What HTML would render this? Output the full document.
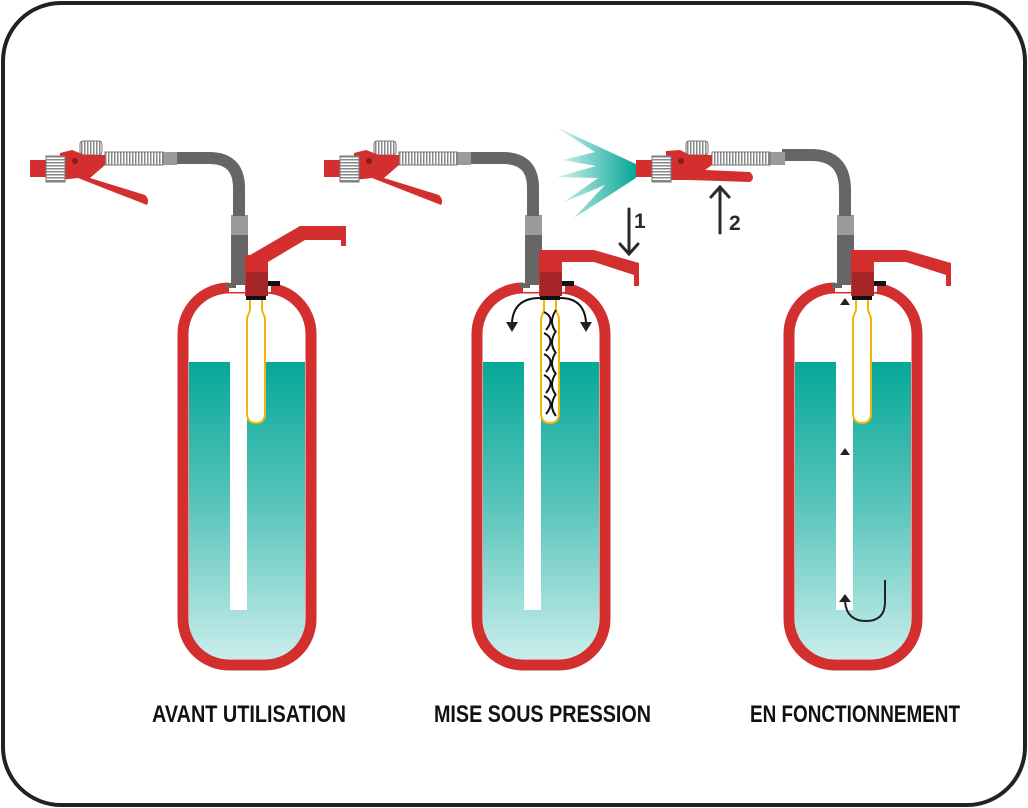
<!DOCTYPE html>
<html><head><style>
html,body{margin:0;padding:0;background:#fff;}
svg{display:block}
text{font-family:"Liberation Sans Narrow","Liberation Sans",sans-serif;font-weight:bold;}
</style></head><body>
<svg width="1028" height="808" viewBox="0 0 1028 808" xmlns="http://www.w3.org/2000/svg">
<defs>
<linearGradient id="liq" x1="0" y1="0" x2="0" y2="1">
<stop offset="0" stop-color="#05a898"/><stop offset="0.5" stop-color="#5cc6bc"/><stop offset="1" stop-color="#c9edeb"/></linearGradient>
<linearGradient id="spr" x1="1" y1="0" x2="0" y2="0">
<stop offset="0" stop-color="#05a898"/><stop offset="1" stop-color="#05a898" stop-opacity="0.15"/></linearGradient>
<pattern id="knv" width="3" height="10" patternUnits="userSpaceOnUse"><rect width="3" height="10" fill="#fff"/><rect width="1.5" height="10" fill="#888"/></pattern>
<pattern id="knh" width="10" height="3" patternUnits="userSpaceOnUse"><rect width="10" height="3" fill="#fff"/><rect width="10" height="1.5" fill="#888"/></pattern>
<g id="bottle">
  <rect x="183" y="288" width="128" height="377" rx="46" fill="#fff"/>
  <path d="M189,362 H305 V620 Q305,659 266,659 H228 Q189,659 189,620 Z" fill="url(#liq)"/>
  <rect x="230" y="362" width="17" height="248" fill="#fff"/>
  <rect x="183" y="288" width="128" height="377" rx="46" fill="none" stroke="#d32f2f" stroke-width="11"/>
  <rect x="229" y="280" width="42" height="12" fill="#fff"/>
  <rect x="226" y="283" width="10" height="5" fill="#666"/>
  <rect x="268" y="281" width="12" height="5" fill="#111"/>
  <rect x="246" y="293" width="20" height="7" fill="#111"/>
  <path d="M250,300 V310 L247,318 V413 Q247,423 256,423 Q265,423 265,413 V318 L262,310 V300" fill="#fff" stroke="#f2b705" stroke-width="2"/>
</g>
<g id="valve">
  <rect x="231" y="233" width="17" height="52" fill="#666"/>
  <rect x="231" y="215" width="17" height="20" fill="#9a9a9f"/>
  <rect x="245" y="255" width="6" height="41" fill="#d32f2f"/>
  <rect x="262" y="255" width="6" height="20" fill="#d32f2f"/>
  <rect x="246" y="272" width="22" height="24" fill="#a52528"/>
  <rect x="253" y="265" width="6" height="3" fill="#a52528"/>
</g>
</defs>

<rect x="3" y="3" width="1022" height="802" rx="58" fill="#fff" stroke="#222" stroke-width="4"/>

<!-- Bottle 1 -->
<use href="#bottle"/>
<use href="#valve"/>
<path d="M245,258 L300,226 H346 V246 H341 V240 H305 L268,262 V272 H245 Z" fill="#d32f2f"/>
<path d="M239,216 V188 Q239,158 209,158 H176" fill="none" stroke="#666" stroke-width="12"/>
<rect x="163" y="152" width="14" height="13" fill="#9a9a9f"/>
<rect x="105" y="152" width="58" height="13" fill="url(#knv)" stroke="#777" stroke-width="1"/>
<rect x="80" y="141" width="22" height="14" rx="3" fill="url(#knv)" stroke="#777"/>
<path d="M60,153 L72,150 L85,155 H105 V165 L90,178 L145,195 Q150,200 147,205 L78,178 L60,180 Z" fill="#d32f2f"/>
<circle cx="75" cy="161" r="3" fill="#8b1a1a"/>
<rect x="30" y="160" width="18" height="17" fill="#d32f2f"/>
<rect x="46" y="156" width="19" height="26" fill="url(#knh)" stroke="#777"/>

<!-- Bottle 2 -->
<g transform="translate(294,0)">
<use href="#bottle"/>
<use href="#valve"/>
<path d="M245,250 H300 L345,263 V286 H340 V275 L300,262 H268 V272 H245 Z" fill="#d32f2f"/>
<path d="M239,216 V188 Q239,158 209,158 H176" fill="none" stroke="#666" stroke-width="12"/>
<rect x="163" y="152" width="14" height="13" fill="#9a9a9f"/>
<rect x="105" y="152" width="58" height="13" fill="url(#knv)" stroke="#777"/>
<rect x="80" y="141" width="22" height="14" rx="3" fill="url(#knv)" stroke="#777"/>
<path d="M60,153 L72,150 L85,155 H105 V165 L90,178 L145,195 Q150,200 147,205 L78,178 L60,180 Z" fill="#d32f2f"/>
<circle cx="75" cy="161" r="3" fill="#8b1a1a"/>
<rect x="30" y="160" width="18" height="17" fill="#d32f2f"/>
<rect x="46" y="156" width="19" height="26" fill="url(#knh)" stroke="#777"/>
<g fill="none" stroke="#111" stroke-width="2">
<path d="M250,312 Q262,318 252,330 M262,310 Q254,322 262,332"/>
<path d="M250,333 Q262,339 252,351 M262,331 Q254,343 262,353"/>
<path d="M250,354 Q262,360 252,372 M262,352 Q254,364 262,374"/>
<path d="M250,375 Q262,381 252,393 M262,373 Q254,385 262,395"/>
<path d="M250,396 Q262,402 252,414 M262,394 Q254,406 262,416"/>
<path d="M246,298 Q220,298 218,322"/>
<path d="M266,298 Q290,298 292,322"/>
</g>
<path d="M212,322 L224,322 L218,332 Z M286,322 L298,322 L292,332 Z" fill="#222"/>
</g>
<g stroke="#2a2a2a" stroke-width="3" fill="none" stroke-linecap="round">
<path d="M629,209 V254 M620,244 L629,254 L638,244"/>
<path d="M720,233 V187 M711,197 L720,187 L729,197"/>
</g>
<text x="634" y="228" font-size="21" fill="#2a2a2a">1</text>
<text x="729" y="230" font-size="21" fill="#2a2a2a">2</text>
<path d="M636,164 L556,127 L595,152 L563,160 L596,166 L557,177 L598,178 L564,202 L605,185 L574,218 L636,178 Z" fill="url(#spr)"/>

<!-- Bottle 3 -->
<g transform="translate(606,0)">
<use href="#bottle"/>
<use href="#valve"/>
<path d="M245,250 H300 L345,263 V286 H340 V275 L300,262 H268 V272 H245 Z" fill="#d32f2f"/>
<path d="M239,216 V190 Q239,155 205,155 H176" fill="none" stroke="#666" stroke-width="12"/>
<path d="M234,305 L244,305 L239,298 Z M234,455 L244,455 L239,448 Z" fill="#222"/>
<path d="M279,580 V602 Q279,621 260,621 Q241,621 239,602" fill="none" stroke="#222" stroke-width="2"/>
<path d="M233,602 L245,602 L239,594 Z" fill="#222"/>
</g>
<rect x="770" y="152" width="15" height="13" fill="#9a9a9f"/>
<rect x="712" y="152" width="58" height="13" fill="url(#knv)" stroke="#777"/>
<rect x="686" y="141" width="22" height="14" rx="3" fill="url(#knv)" stroke="#777"/>
<path d="M666,151 L680,150 L690,155 H712 V165 L705,170 L750,172 Q756,178 750,182 L690,180 L666,180 Z" fill="#d32f2f"/>
<circle cx="681" cy="161" r="3" fill="#8b1a1a"/>
<rect x="636" y="160" width="18" height="17" fill="#d32f2f"/>
<rect x="652" y="156" width="19" height="26" fill="url(#knh)" stroke="#777"/>

<text x="152" y="722" font-size="24" textLength="194" lengthAdjust="spacingAndGlyphs" fill="#111">AVANT UTILISATION</text>
<text x="434" y="722" font-size="24" textLength="217" lengthAdjust="spacingAndGlyphs" fill="#111">MISE SOUS PRESSION</text>
<text x="750" y="722" font-size="24" textLength="210" lengthAdjust="spacingAndGlyphs" fill="#111">EN FONCTIONNEMENT</text>
</svg>
</body></html>
